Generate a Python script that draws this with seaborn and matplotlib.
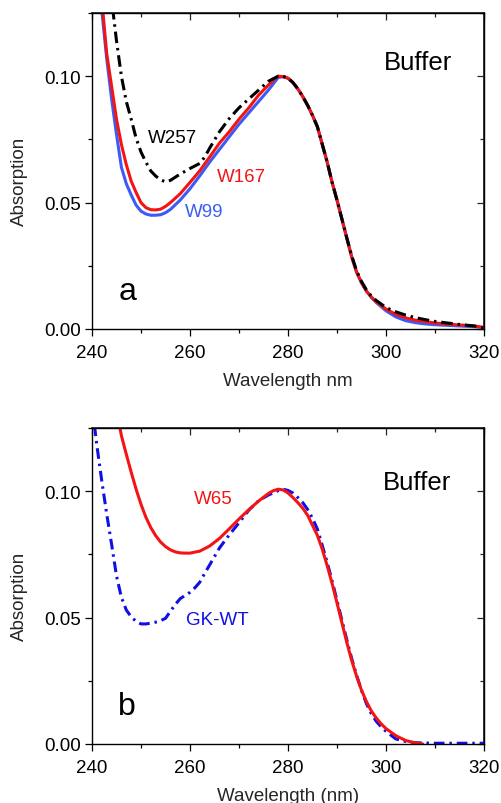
import numpy as np
import pandas as pd
import matplotlib
matplotlib.use("Agg")
import matplotlib.pyplot as plt
from matplotlib.ticker import MultipleLocator, FormatStrFormatter
import seaborn as sns

# ---------------- data: panel a ----------------
w99_wl = [242, 243, 244, 245, 246, 247, 248, 249, 250, 251, 252, 253, 254, 255, 256, 258, 260,
          262, 264, 266, 268, 270, 272, 274, 276, 277, 278, 279, 280, 281, 282, 283, 284, 285,
          286, 287, 288, 289, 290, 291, 292, 293, 294, 295, 296, 297, 298, 300, 302, 304, 306,
          308, 310, 312, 315, 318, 320]
w99_abs = [0.126, 0.107, 0.091, 0.077, 0.064, 0.0575, 0.053, 0.049, 0.0466, 0.0455, 0.045, 0.045,
           0.0452, 0.046, 0.0473, 0.051, 0.0555, 0.0606, 0.066, 0.071, 0.076, 0.081, 0.0855, 0.090,
           0.0945, 0.097, 0.0995, 0.0998, 0.0992, 0.0975, 0.095, 0.092, 0.0885, 0.0845, 0.080,
           0.073, 0.066, 0.058, 0.051, 0.0435, 0.036, 0.0285, 0.0225, 0.0183, 0.015, 0.0125,
           0.0105, 0.0072, 0.0048, 0.0033, 0.0025, 0.002, 0.0017, 0.0015, 0.0012, 0.0009, 0.0006]

w167_wl = [242.2, 243, 244, 245, 246, 247, 248, 249, 250, 251, 252, 253, 254, 255, 256, 258, 260,
           262, 264, 266, 268, 270, 272, 274, 276, 277, 278, 279, 280, 281, 282, 283, 284, 285,
           286, 287, 288, 289, 290, 291, 292, 293, 294, 295, 296, 297, 298, 300, 302, 304, 306,
           308, 310, 312, 315, 318, 320]
w167_abs = [0.126, 0.109, 0.096, 0.083, 0.073, 0.065, 0.0585, 0.054, 0.050, 0.048, 0.0472, 0.0471,
            0.0474, 0.0485, 0.050, 0.0535, 0.058, 0.0626, 0.068, 0.0735, 0.078, 0.083, 0.0875,
            0.0925, 0.0965, 0.0985, 0.1, 0.0998, 0.0992, 0.0975, 0.095, 0.092, 0.0885, 0.0845,
            0.080, 0.073, 0.066, 0.058, 0.051, 0.0435, 0.036, 0.0285, 0.0225, 0.0183, 0.015,
            0.0127, 0.0108, 0.0079, 0.0058, 0.0044, 0.0035, 0.0029, 0.0024, 0.002, 0.0016,
            0.0012, 0.0006]

w257_wl = [244.2, 245, 246, 247, 248, 249, 250, 251, 252, 253, 254, 255, 256, 258, 260, 262, 263,
           264, 266, 268, 270, 272, 274, 276, 277, 278, 279, 280, 281, 282, 283, 284, 285, 286,
           287, 288, 289, 290, 291, 292, 293, 294, 295, 296, 297, 298, 300, 302, 304, 306, 308,
           310, 312, 315, 318, 320]
w257_abs = [0.127, 0.114, 0.100, 0.090, 0.083, 0.0755, 0.070, 0.066, 0.0625, 0.0605, 0.059,
            0.0582, 0.0588, 0.0613, 0.0635, 0.0655, 0.068, 0.0715, 0.078, 0.0832, 0.0875, 0.091,
            0.0945, 0.098, 0.099, 0.1, 0.1, 0.0992, 0.0975, 0.095, 0.092, 0.0885, 0.0845, 0.080,
            0.073, 0.066, 0.058, 0.051, 0.0435, 0.036, 0.029, 0.023, 0.0188, 0.0155, 0.013,
            0.0113, 0.0085, 0.0068, 0.0055, 0.0045, 0.0037, 0.003, 0.0025, 0.0018, 0.0012, 0.0004]

# ---------------- data: panel b ----------------
w65_wl = [245.6, 246, 247, 248, 249, 250, 251, 252, 253, 254, 255, 256, 257, 258, 259, 260, 262,
          264, 266, 268, 270, 272, 274, 276, 277, 278, 279, 280, 281, 282, 283, 284, 285, 286,
          287, 288, 289, 290, 291, 292, 293, 294, 295, 296, 297, 298, 299, 300, 302, 304, 306,
          307.5]
w65_abs = [0.126, 0.122, 0.1146, 0.1075, 0.1008, 0.0948, 0.0897, 0.0856, 0.0824, 0.0799, 0.0781,
           0.0768, 0.0760, 0.0756, 0.0755, 0.0755, 0.0763, 0.0783, 0.0813, 0.0851, 0.0890,
           0.0927, 0.0961, 0.0991, 0.1002, 0.1008, 0.1005, 0.0993, 0.0975, 0.0955, 0.0933,
           0.0905, 0.0865, 0.0825, 0.077, 0.0705, 0.0635, 0.0558, 0.048, 0.0402, 0.033, 0.0268,
           0.0213, 0.0168, 0.0131, 0.0103, 0.008, 0.0061, 0.0033, 0.0014, 0.0004, 0.0]

gkwt_wl = [240.5, 241, 242, 243, 244, 245, 246, 247, 248, 249, 250, 251, 252, 253, 254, 255, 256,
           257, 258, 260, 261, 262, 263, 264, 266, 268, 270, 272, 274, 276, 278, 279, 280, 281,
           282, 283, 284, 285, 286, 287, 288, 289, 290, 291, 292, 293, 294, 295, 296, 297, 298,
           299, 300, 302, 304, 306, 310, 315, 320]
gkwt_abs = [0.126, 0.118, 0.104, 0.091, 0.079, 0.0665, 0.058, 0.053, 0.0503, 0.0485, 0.0475,
            0.0475, 0.0478, 0.0482, 0.0488, 0.0497, 0.0525, 0.0552, 0.0575, 0.060, 0.0618, 0.064,
            0.0675, 0.0708, 0.0775, 0.0827, 0.0875, 0.0925, 0.0962, 0.0985, 0.1002, 0.1008,
            0.1003, 0.0993, 0.0975, 0.0955, 0.0928, 0.0893, 0.085, 0.0785, 0.0718, 0.0645,
            0.0568, 0.049, 0.0412, 0.0338, 0.0272, 0.0212, 0.016, 0.012, 0.009, 0.0068, 0.005,
            0.002, 0.001, 0.0005, 0.0003, 0.0003, 0.0003]

x_ticks = [240, 260, 280, 300, 320]
y_ticks = [0.00, 0.05, 0.10]

sns.set_theme(style="ticks")
plt.rcParams['font.family'] = ['Liberation Sans', 'DejaVu Sans']

W, H = 501, 804
fig = plt.figure(figsize=(W / 100, H / 100), dpi=100)

RED = "#f41414"
BLUE_A = "#3a5cf5"
BLUE_B = "#1010e6"


def make_ax(bottom_px, top_px):
    left, right = 92, 484
    ax = fig.add_axes([left / W, 1 - bottom_px / H, (right - left) / W, (bottom_px - top_px) / H])
    return ax


def style_ax(ax, xlabel):
    ax.set_xlim(240, 320)
    ax.set_ylim(0, 0.125)
    ax.set_xticks(x_ticks)
    ax.set_yticks(y_ticks)
    ax.xaxis.set_minor_locator(MultipleLocator(10))
    ax.yaxis.set_minor_locator(MultipleLocator(0.025))
    ax.yaxis.set_major_formatter(FormatStrFormatter('%.2f'))
    for sp in ax.spines.values():
        sp.set_visible(True)
        sp.set_color("black")
        sp.set_linewidth(1.0)
    ax.tick_params(axis='both', which='both', colors='black', labelsize=13.5, width=0.9)
    ax.tick_params(axis='both', which='major', length=5, pad=3)
    ax.tick_params(axis='both', which='minor', length=3)
    ax.tick_params(axis='x', which='major', pad=6)
    ax.tick_params(axis='x', which='both', direction='out', bottom=True, top=False)
    ax.tick_params(axis='y', which='both', direction='out', left=True, right=False)
    # inward ticks on top and right
    axt = ax.secondary_xaxis('top')
    axt.set_xticks(x_ticks)
    axt.xaxis.set_minor_locator(MultipleLocator(10))
    axt.tick_params(which='both', direction='in', labeltop=False, width=0.9)
    axt.tick_params(which='major', length=5)
    axt.tick_params(which='minor', length=3)
    axr = ax.secondary_yaxis('right')
    axr.set_yticks(y_ticks)
    axr.yaxis.set_minor_locator(MultipleLocator(0.025))
    axr.tick_params(which='both', direction='in', labelright=False, width=0.9)
    axr.tick_params(which='major', length=5)
    axr.tick_params(which='minor', length=3)
    ax.set_xlabel(xlabel, fontsize=13.5, labelpad=8)
    ax.set_ylabel("Absorption", fontsize=13.5)
    ax.yaxis.set_label_coords(-0.163, 0.47)
    ax.grid(False)


# ---------------- panel a ----------------
ax1 = make_ax(330, 14)
sns.lineplot(x=w99_wl, y=w99_abs, ax=ax1, color=BLUE_A, linewidth=2.2)
sns.lineplot(x=w167_wl, y=w167_abs, ax=ax1, color=RED, linewidth=2.2)
sns.lineplot(x=w257_wl, y=w257_abs, ax=ax1, color="black", linewidth=2.2,
             linestyle=(0, (3.8, 1.6, 0.8, 1.6)))
style_ax(ax1, "Wavelength nm")
ax1.text(256.5, 0.0759, "W257", color="black", fontsize=13.5, ha="center", va="center")
ax1.text(270.6, 0.0605, "W167", color=RED, fontsize=13.5, ha="center", va="center")
ax1.text(262.9, 0.0466, "W99", color=BLUE_A, fontsize=13.5, ha="center", va="center")
ax1.text(306.6, 0.1055, "Buffer", color="black", fontsize=18.5, ha="center", va="center")
ax1.text(247.2, 0.0119, "a", color="black", fontsize=23, ha="center", va="baseline")

# ---------------- panel b ----------------
ax2 = make_ax(745, 429)
sns.lineplot(x=gkwt_wl, y=gkwt_abs, ax=ax2, color=BLUE_B, linewidth=2.2,
             linestyle=(0, (3.5, 1.6, 0.8, 1.6)))
sns.lineplot(x=w65_wl, y=w65_abs, ax=ax2, color=RED, linewidth=2.2)
style_ax(ax2, "Wavelength (nm)")
ax2.text(264.7, 0.097, "W65", color=RED, fontsize=13.5, ha="center", va="center")
ax2.text(265.5, 0.0492, "GK-WT", color=BLUE_B, fontsize=13.5, ha="center", va="center")
ax2.text(306.4, 0.1036, "Buffer", color="black", fontsize=18.5, ha="center", va="center")
ax2.text(247.2, 0.0119, "b", color="black", fontsize=23, ha="center", va="baseline")

fig.savefig("out.png", dpi=100)
